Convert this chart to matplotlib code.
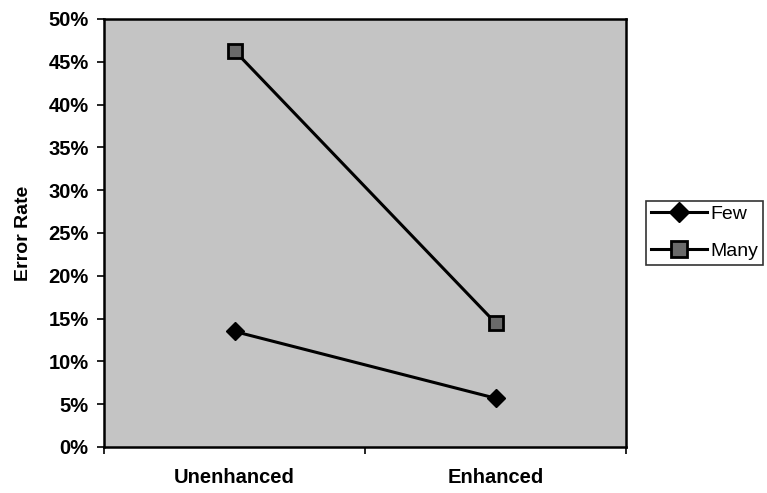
import matplotlib
matplotlib.use("Agg")
import matplotlib.pyplot as plt
from matplotlib.ticker import FuncFormatter

categories = ["Unenhanced", "Enhanced"]
few = [13.5, 5.7]
many = [46.3, 14.5]
yticks = list(range(0, 51, 5))

plt.rcParams['font.family'] = ['Liberation Sans', 'DejaVu Sans']

fig = plt.figure(figsize=(7.67, 4.93), dpi=100)
W, H = 767, 493
ax = fig.add_axes([104 / W, 1 - 447 / H, (626 - 104) / W, (447 - 19) / H])
ax.set_facecolor('#c4c4c4')

xpos = [i + 0.5 for i in range(len(categories))]
ax.plot(xpos, few, color='black', lw=2.2, marker='D', markersize=9,
        markerfacecolor='black', markeredgecolor='black', label='Few')
ax.plot(xpos, many, color='black', lw=2.2, marker='s', markersize=10,
        markerfacecolor='#6a6a6a', markeredgecolor='black', markeredgewidth=2,
        label='Many')

ax.set_xlim(0, len(categories))
ax.set_ylim(0, 50)
ax.set_yticks(yticks)
ax.yaxis.set_major_formatter(FuncFormatter(lambda v, p: f"{int(v)}%"))
ax.set_xticks(range(len(categories) + 1))
ax.set_xticklabels([])
ax.set_xticks(xpos, minor=True)
ax.set_xticklabels(categories, minor=True)
ax.tick_params(axis='x', which='minor', length=0, pad=15)
ax.tick_params(axis='x', which='major', direction='out', length=5, width=1.2)
ax.tick_params(axis='y', direction='out', length=5, width=1.2, pad=6)
for lbl in ax.get_yticklabels() + ax.get_xticklabels(minor=True):
    lbl.set_fontweight('bold')
    lbl.set_fontsize(14.5)

for s in ax.spines.values():
    s.set_linewidth(1.8)
    s.set_color('black')

ax.set_ylabel("Error Rate", fontsize=14, fontweight='bold', labelpad=12)

leg = fig.legend(loc='lower left', bbox_to_anchor=(646 / W, 1 - 265 / H),
                 fontsize=14, frameon=True, fancybox=False, handlelength=2.9,
                 handletextpad=0.15, borderpad=0.25, labelspacing=1.0,
                 borderaxespad=0, markerscale=1.1)
leg.get_frame().set_edgecolor('black')
leg.get_frame().set_linewidth(1.2)

fig.savefig("out.png", dpi=100)
